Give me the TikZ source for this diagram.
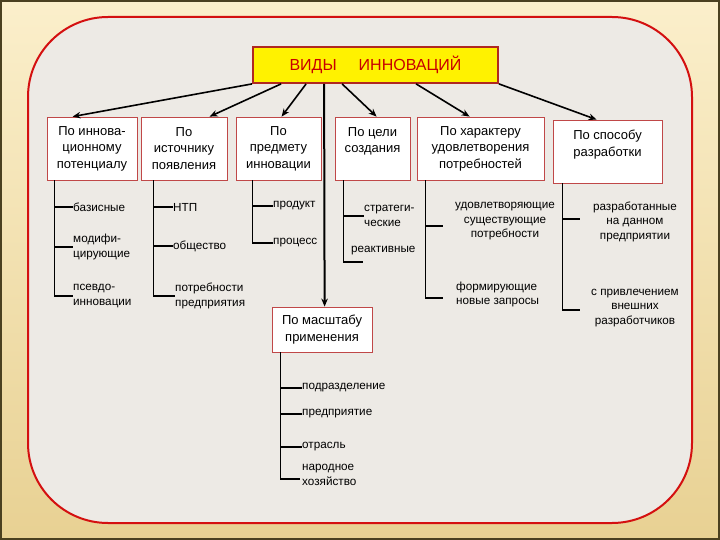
\documentclass[tikz,border=0pt]{standalone}
\usepackage{fontspec}
\setmainfont{Liberation Sans}
\usetikzlibrary{arrows.meta,calc}
\definecolor{outerTop}{HTML}{FBEFCB}
\definecolor{outerBot}{HTML}{E8D193}
\definecolor{frameDark}{HTML}{4A4020}
\definecolor{innerFill}{HTML}{EDEAE5}
\definecolor{innerRed}{HTML}{D41010}
\definecolor{titleRed}{HTML}{C80000}
\definecolor{titleBorder}{HTML}{B02820}
\definecolor{boxRed}{HTML}{C04848}
\begin{document}
\begin{tikzpicture}[x=1pt,y=-1pt,
  titlebox/.style={draw=titleBorder, line width=1.8pt, fill=yellow, minimum width=245pt, minimum height=36pt, inner sep=0pt, text=titleRed, font=\fontsize{16}{19}\selectfont},
  cat/.style={draw=boxRed, line width=0.8pt, fill=white, minimum height=63pt, inner sep=0pt, align=center, font=\fontsize{13}{16.5}\selectfont},
  leaf/.style={inner sep=0pt, anchor=west, align=left, font=\fontsize{11.7}{14.5}\selectfont},
  leafc/.style={inner sep=0pt, align=center, font=\fontsize{11.7}{14.5}\selectfont},
  arr/.style={-{Stealth[length=8pt,width=6.5pt]}, line width=1.6pt},
  tree/.style={line width=1.1pt}]
\useasboundingbox (0,0) rectangle (720,540);
% background
\shade[top color=outerTop, bottom color=outerBot] (0,0) rectangle (720,540);
\draw[frameDark, line width=2pt] (1,1) rectangle (719,539);
\draw[innerRed, fill=innerFill, line width=2pt, rounded corners=80pt] (28,17) rectangle (692,523);
% title
\node[titlebox] (t) at (375.5,65) {ВИДЫ\hspace{22pt}ИННОВАЦИЙ};
% categories
\node[cat, minimum width=90pt] (b1) at (92,148.5) {По иннова-\\ционному\\потенциалу};
\node[cat, minimum width=86pt] (b2) at (184,148.5) {По\\источнику\\появления};
\node[cat, minimum width=85pt] (b3) at (278.5,148.5) {По\\предмету\\инновации};
\node[cat, minimum width=75pt] (b4) at (372.5,148.5) {По цели\\создания\\\mbox{}};
\node[cat, minimum width=127pt] (b5) at (480.5,148.5) {По характеру\\удовлетворения\\потребностей};
\node[cat, minimum width=109pt] (b6) at (607.5,151.5) {По способу\\разработки\\\mbox{}};
\node[cat, minimum width=100pt, minimum height=45pt] (s) at (322,329.5) {По масштабу\\применения};
% arrows
\draw[arr] (t.south west) -- ([xshift=26pt]b1.north west);
\draw[arr] ([xshift=29pt]t.south west) -- ([xshift=69pt]b2.north west);
\draw[arr] ([xshift=54pt]t.south west) -- ([xshift=46pt]b3.north west);
\draw[arr, line width=2pt] ([xshift=72pt]t.south west) -- ([xshift=53pt]s.north west);
\draw[arr] ([xshift=90pt]t.south west) -- ([xshift=42pt]b4.north west);
\draw[arr] ([xshift=164pt]t.south west) -- ([xshift=53pt]b5.north west);
\draw[arr] (t.south east) -- ([xshift=44pt]b6.north west);
% tree 1
\coordinate (v1) at ($(b1.south west)+(8,0)$);
\node[leaf] (l11) at (73,207) {базисные};
\node[leaf] (l12) at (73,247) {модифи-\\цирующие};
\node[leaf] (l13) at (73,296) {псевдо-\\инновации};
\draw[tree] (v1) |- (l13.west);
\draw[tree] (v1 |- l11.west) -- (l11.west);
\draw[tree] (v1 |- l12.west) -- (l12.west);
% tree 2
\coordinate (v2) at ($(b2.south west)+(13,0)$);
\node[leaf] (l21) at (173,207) {НТП};
\node[leaf] (l22) at (173,246) {общество};
\node[leaf] (l23) at (175,296) {потребности\\предприятия};
\draw[tree] (v2) |- (l23.west);
\draw[tree] (v2 |- l21.west) -- (l21.west);
\draw[tree] (v2 |- l22.west) -- (l22.west);
% tree 3
\coordinate (v3) at ($(b3.south west)+(17,0)$);
\node[leaf] (l31) at (273,206) {продукт};
\node[leaf] (l32) at (273,243) {процесс};
\draw[tree] (v3) |- (l32.west);
\draw[tree] (v3 |- l31.west) -- (l31.west);
% tree 4
\coordinate (v4) at ($(b4.south west)+(9,0)$);
\node[leaf] (l41) at (364,216) {стратеги-\\ческие};
\node[leaf] (l42) at (351,251) {реактивные};
\coordinate (e42) at (363,262);
\draw[tree] (v4) |- (e42);
\draw[tree] (v4 |- l41.west) -- (l41.west);
% tree 5
\coordinate (v5) at ($(b5.south west)+(9,0)$);
\node[leafc] (l51) at (505,221.5) {удовлетворяющие\\существующие\\потребности};
\node[leaf] (l52) at (456,294.5) {формирующие\\новые запросы};
\coordinate (e51) at (443,226);
\coordinate (e52) at (443,298);
\draw[tree] (v5) |- (e52);
\draw[tree] (v5 |- e51) -- (e51);
% tree 6
\coordinate (v6) at ($(b6.south west)+(10,0)$);
\node[leafc] (l61) at (635,221.5) {разработанные\\на данном\\предприятии};
\node[leafc] (l62) at (635,308) {с привлечением\\внешних\\разработчиков};
\coordinate (e61) at (580,219);
\coordinate (e62) at (580,310);
\draw[tree] (v6) |- (e62);
\draw[tree] (v6 |- e61) -- (e61);
% tree 7
\coordinate (v7) at ($(s.south west)+(9,0)$);
\node[leaf] (l71) at (302,388) {подразделение};
\node[leaf] (l72) at (302,414) {предприятие};
\node[leaf] (l73) at (302,447) {отрасль};
\node[leaf] (l74) at (302,475) {народное\\хозяйство};
\coordinate (e74) at (300,479);
\draw[tree] (v7) |- (e74);
\draw[tree] (v7 |- l71.west) -- (l71.west);
\draw[tree] (v7 |- l72.west) -- (l72.west);
\draw[tree] (v7 |- l73.west) -- (l73.west);
\end{tikzpicture}
\end{document}
